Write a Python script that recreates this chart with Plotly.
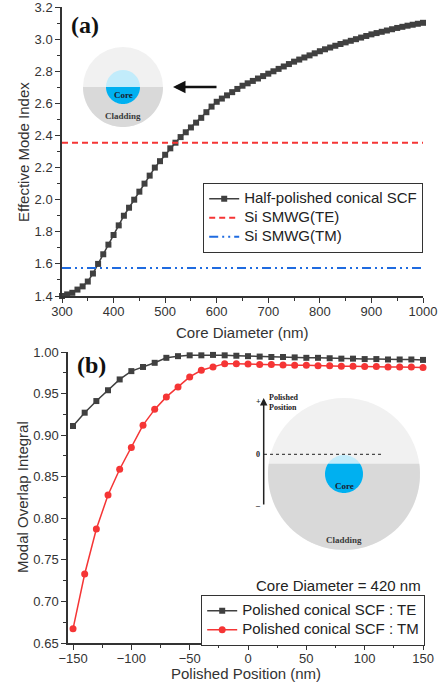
import math
import plotly.graph_objects as go

W, H = 442, 684

# ---------------- data ----------------
core_diameter = list(range(300, 1001, 10))
neff_half_polished = [
    1.400, 1.410, 1.420, 1.440, 1.460, 1.490, 1.540, 1.600, 1.660, 1.720,
    1.780, 1.840, 1.900, 1.950, 2.000, 2.050, 2.100, 2.150, 2.200, 2.240,
    2.280, 2.320, 2.355, 2.390, 2.420, 2.450, 2.480, 2.510, 2.545, 2.580,
    2.610, 2.630, 2.650, 2.670, 2.690, 2.710, 2.725, 2.740, 2.755, 2.770,
    2.785, 2.800, 2.815, 2.830, 2.845, 2.860, 2.873, 2.886, 2.899, 2.912,
    2.925, 2.937, 2.948, 2.959, 2.970, 2.980, 2.990, 3.000, 3.010, 3.020,
    3.030, 3.038, 3.046, 3.054, 3.062, 3.070, 3.077, 3.084, 3.090, 3.096,
    3.102,
]
si_smwg_te = 2.355
si_smwg_tm = 1.575

polished_position = list(range(-150, 151, 10))
overlap_te = [
    0.911, 0.927, 0.941, 0.954, 0.967, 0.977, 0.982, 0.987, 0.993, 0.995,
    0.996, 0.996, 0.9965, 0.996, 0.9955, 0.995, 0.9945, 0.994, 0.994, 0.9935,
    0.993, 0.993, 0.9925, 0.992, 0.992, 0.9915, 0.9915, 0.991, 0.991, 0.991,
    0.9905,
]
overlap_tm = [
    0.667, 0.733, 0.787, 0.828, 0.859, 0.885, 0.912, 0.931, 0.946, 0.958,
    0.970, 0.978, 0.982, 0.986, 0.986, 0.9855, 0.985, 0.985, 0.9845, 0.984,
    0.984, 0.9835, 0.9835, 0.983, 0.983, 0.9825, 0.9825, 0.982, 0.982, 0.982,
    0.9815,
]

x_ticks_a = [300, 400, 500, 600, 700, 800, 900, 1000]
y_ticks_a = [1.4, 1.6, 1.8, 2.0, 2.2, 2.4, 2.6, 2.8, 3.0, 3.2]
x_ticks_b = [-150, -100, -50, 0, 50, 100, 150]
y_ticks_b = [0.65, 0.70, 0.75, 0.80, 0.85, 0.90, 0.95, 1.00]

# ---------------- helpers ----------------
def px(x):
    return x / W

def py(y):
    return 1 - y / H

def segment_path(cx, cy, r, ydiv, n=60):
    """Polygon for the part of a circle below the pixel line y = ydiv."""
    s = max(-1.0, min(1.0, (ydiv - cy) / r))
    t0 = math.asin(s)
    t1 = math.pi - t0
    pts = []
    for i in range(n + 1):
        t = t0 + (t1 - t0) * i / n
        pts.append((cx + r * math.cos(t), cy + r * math.sin(t)))
    d = "M " + " L ".join(f"{px(a):.5f},{py(b):.5f}" for a, b in pts) + " Z"
    return d

def circle_shape(cx, cy, r, color):
    return dict(type="circle", xref="paper", yref="paper",
                x0=px(cx - r), x1=px(cx + r), y0=py(cy + r), y1=py(cy - r),
                fillcolor=color, line=dict(width=0), layer="above")

def seg_shape(cx, cy, r, ydiv, color):
    return dict(type="path", xref="paper", yref="paper",
                path=segment_path(cx, cy, r, ydiv), fillcolor=color,
                line=dict(width=0), layer="above")

def label(text, x, y, font, xanchor="center", yanchor="middle", **kw):
    return dict(text=text, x=px(x), y=py(y), xref="paper", yref="paper",
                showarrow=False, xanchor=xanchor, yanchor=yanchor, font=font, **kw)

def big(name):
    return f'<span style="font-size:15px">{name}</span>'

GRAY = "#404040"
RED = "#f53535"
BLUE = "#1f6be0"
AX = "#333333"
CLAD_LIGHT = "#f1f1f1"
CLAD_DARK = "#d9d9d9"
CORE_LIGHT = "#c2ecfb"
CORE_DARK = "#00b0f0"

fig = go.Figure()

# ---------------- panel (a) ----------------
fig.add_trace(go.Scatter(
    x=core_diameter, y=neff_half_polished, mode="lines+markers",
    name=big("Half-polished conical SCF"),
    line=dict(color=GRAY, width=1.5),
    marker=dict(symbol="square", size=6, color=GRAY),
    xaxis="x", yaxis="y", legend="legend", cliponaxis=False))
fig.add_trace(go.Scatter(
    x=[core_diameter[0], core_diameter[-1]], y=[si_smwg_te, si_smwg_te],
    mode="lines", name=big("Si SMWG(TE)"),
    line=dict(color=RED, width=2, dash="6px,4px"),
    xaxis="x", yaxis="y", legend="legend"))
fig.add_trace(go.Scatter(
    x=[core_diameter[0], core_diameter[-1]], y=[si_smwg_tm, si_smwg_tm],
    mode="lines", name=big("Si SMWG(TM)"),
    line=dict(color=BLUE, width=2, dash="9px,4px,2px,4px,2px,4px"),
    xaxis="x", yaxis="y", legend="legend"))

# ---------------- panel (b) ----------------
fig.add_trace(go.Scatter(
    x=polished_position, y=overlap_te, mode="lines+markers",
    name=big("Polished conical SCF : TE"),
    line=dict(color=GRAY, width=1.5),
    marker=dict(symbol="square", size=6, color=GRAY),
    xaxis="x2", yaxis="y2", legend="legend2", cliponaxis=False))
fig.add_trace(go.Scatter(
    x=polished_position, y=overlap_tm, mode="lines+markers",
    name=big("Polished conical SCF : TM"),
    line=dict(color=RED, width=1.5),
    marker=dict(symbol="circle", size=7, color=RED),
    xaxis="x2", yaxis="y2", legend="legend2", cliponaxis=False))

axis_common = dict(
    showgrid=False, zeroline=False, showline=True, linecolor=AX, linewidth=1.5,
    ticks="outside", ticklen=5, tickwidth=1.2, tickcolor=AX,
    tickfont=dict(family="Liberation Sans, Arial", size=13, color="#333333"),
    mirror=False, automargin=False, ticklabeloverflow="allow",
)

legend_common = dict(
    xref="paper", yref="paper", xanchor="right", yanchor="top",
    bgcolor="white", bordercolor="#333333", borderwidth=1.2,
    font=dict(family="Liberation Sans, Arial", size=12, color="#222222"),
    itemwidth=30, tracegroupgap=0,
)

fig.update_layout(
    template="none",
    width=W, height=H,
    margin=dict(l=0, r=0, t=0, b=0, pad=0, autoexpand=False),
    paper_bgcolor="white", plot_bgcolor="white",
    xaxis=dict(**axis_common, domain=[px(62), px(423)], range=[300, 1000],
               anchor="y", tickvals=x_ticks_a, ticklabelstandoff=-2,
               minor=dict(ticks="outside", ticklen=3, dtick=50, tickcolor=AX)),
    yaxis=dict(**axis_common, domain=[py(296), py(7)], range=[1.4, 3.2005],
               anchor="x", tickvals=y_ticks_a, tickformat=".1f",
               minor=dict(ticks="outside", ticklen=3, dtick=0.1, tickcolor=AX)),
    xaxis2=dict(**axis_common, domain=[px(68), px(425)], range=[-154.3, 151.7],
                anchor="y2", tickvals=x_ticks_b, ticklabelstandoff=-2,
                minor=dict(ticks="outside", ticklen=3, dtick=25, tick0=0, tickcolor=AX)),
    yaxis2=dict(**axis_common, domain=[py(643), py(352)], range=[0.65, 1.0],
                anchor="x2", tickvals=y_ticks_b, tickformat=".2f",
                minor=dict(ticks="outside", ticklen=3, dtick=0.025, tick0=0.65, tickcolor=AX)),
    legend=dict(**legend_common, x=px(423), y=py(183)),
    legend2=dict(**legend_common, x=px(425), y=py(595)),
    showlegend=True,
)

title_font = dict(family="Liberation Sans, Arial", size=15, color="#333333")
panel_font = dict(family="Liberation Serif, Times New Roman", size=24, color="#111111")
small_serif = dict(family="Liberation Serif, Times New Roman", size=9, color="#1a1a2e")
clad_font = dict(family="Liberation Serif, Times New Roman", size=9, color="#3a3a3a")
mark_font = dict(family="Liberation Serif, Times New Roman", size=8, color="#222222")

annotations = [
    label("Effective Mode Index", 23, 152, title_font, textangle=-90),
    label("Core Diameter (nm)", 242, 332, title_font),
    label("Modal Overlap Integral", 22, 497, title_font, textangle=-90),
    label("Polished Position (nm)", 246, 673, title_font),
    label("Core Diameter = 420 nm", 423, 585,
          dict(family="Liberation Sans, Arial", size=15, color="#222222"),
          xanchor="right"),
    label("<b>(a)</b>", 85, 25, panel_font),
    label("<b>(b)</b>", 91, 365, panel_font),
    # inset (a)
    label("<b>Core</b>", 123, 95, small_serif),
    label("<b>Cladding</b>", 123, 116, clad_font),
    dict(text="", x=px(173), y=py(87), xref="paper", yref="paper",
         showarrow=True, ax=45, ay=0, arrowhead=2, arrowsize=1,
         arrowwidth=2.5, arrowcolor="#111111", standoff=0),
    # inset (b)
    label("<b>Core</b>", 344, 486, small_serif),
    label("<b>Cladding</b>", 344, 540, clad_font),
    label("<b>Polished<br>Position</b>", 267, 402,
          dict(family="Liberation Serif, Times New Roman", size=8, color="#222222"),
          xanchor="left", align="left"),
    dict(text="", x=px(263.7), y=py(398), xref="paper", yref="paper",
         showarrow=True, ax=0, ay=108, arrowhead=2, arrowsize=1,
         arrowwidth=1.5, arrowcolor="#222222", standoff=0),
    label("<b>+</b>", 258, 401, mark_font),
    label("<b>0</b>", 258, 454, mark_font),
    label("<b>\u2013</b>", 258, 505, mark_font),
]
fig.update_layout(annotations=annotations)

shapes = []
# inset (a): cladding with half polished, core
shapes.append(circle_shape(123, 87, 40, CLAD_LIGHT))
shapes.append(seg_shape(123, 87, 40, 87, CLAD_DARK))
shapes.append(circle_shape(123, 87, 17, CORE_LIGHT))
shapes.append(seg_shape(123, 87, 17, 87, CORE_DARK))
# inset (b)
shapes.append(circle_shape(344, 474, 76, CLAD_LIGHT))
shapes.append(seg_shape(344, 474, 76, 463.7, CLAD_DARK))
shapes.append(circle_shape(344, 474, 19, CORE_LIGHT))
shapes.append(seg_shape(344, 474, 19, 463.7, CORE_DARK))
shapes.append(dict(type="line", xref="paper", yref="paper",
                   x0=px(264), x1=px(383), y0=py(454.3), y1=py(454.3),
                   line=dict(color="#222222", width=1, dash="dot"), layer="above"))
fig.update_layout(shapes=shapes)

fig.write_html("out.html")
